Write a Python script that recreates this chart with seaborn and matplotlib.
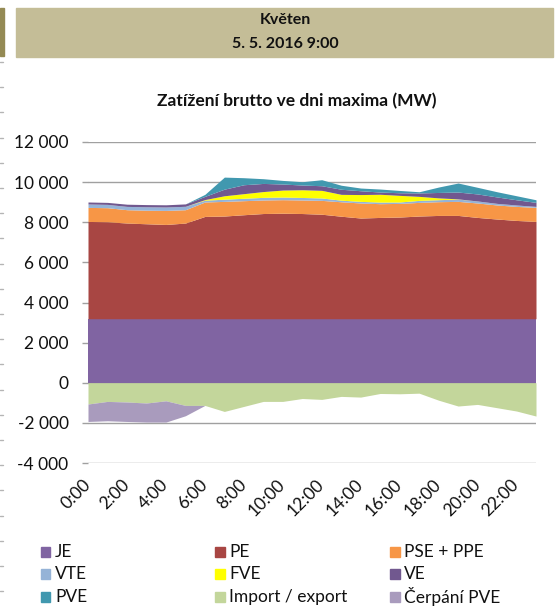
import matplotlib
matplotlib.use("Agg")
import matplotlib.pyplot as plt
from matplotlib.patches import Rectangle
from matplotlib.lines import Line2D
from matplotlib.ticker import FuncFormatter, MultipleLocator
import numpy as np
import pandas as pd
import seaborn as sns

# Hourly load on the peak day (MW)
hours = list(range(24))
hour_labels = [f"{h}:00" for h in hours]

je = [3190] * 24
pe = [4850, 4835, 4770, 4735, 4700, 4770, 5100, 5120, 5185, 5245, 5260, 5245,
      5210, 5110, 5020, 5050, 5070, 5120, 5150, 5150, 5050, 4970, 4900, 4850]
pse_ppe = [700, 700, 665, 675, 700, 665, 720, 730, 700, 675, 675, 675,
           690, 720, 750, 685, 680, 680, 685, 700, 720, 700, 700, 700]
vte = [170, 165, 165, 170, 170, 170, 90, 110, 120, 130, 130, 125,
       120, 80, 80, 80, 70, 100, 100, 115, 100, 80, 70, 50]
fve = [0, 0, 0, 0, 0, 0, 30, 170, 230, 290, 350, 385,
       380, 290, 340, 390, 330, 200, 90, 10, 0, 0, 0, 0]
ve = [100, 100, 110, 110, 110, 120, 160, 330, 445, 405, 300, 235,
      230, 255, 190, 110, 130, 170, 270, 340, 350, 320, 260, 200]
pve = [0, 0, 0, 0, 0, 0, 100, 600, 350, 235, 180, 165,
       300, 200, 135, 150, 115, 60, 270, 450, 330, 260, 200, 130]
import_export = [-1060, -930, -960, -1010, -900, -1130, -1130, -1430, -1180, -930, -930, -785,
                 -830, -680, -715, -535, -550, -520, -870, -1160, -1080, -1245, -1410, -1660]
cerpani_pve = [-870, -965, -970, -950, -1060, -515, 0, 0, 0, 0, 0, 0,
               0, 0, 0, 0, 0, 0, 0, 0, 0, 0, 0, 0]

series_names = ["JE", "PE", "PSE + PPE", "VTE", "FVE", "VE", "PVE",
                "Import / export", "Čerpání PVE"]
series_colors = ["#8064A2", "#A84643", "#F79646", "#95B3D7", "#FFFF00",
                 "#71588F", "#4198AF", "#C3D69B", "#A99BBD"]

df = pd.DataFrame({
    "hour": hours,
    "JE": je, "PE": pe, "PSE + PPE": pse_ppe, "VTE": vte, "FVE": fve,
    "VE": ve, "PVE": pve, "Import / export": import_export,
    "Čerpání PVE": cerpani_pve,
})

sns.set_theme(style="white")
plt.rcParams["font.family"] = ["Lato", "DejaVu Sans"]

W, H = 555, 612
fig = plt.figure(figsize=(W / 100, H / 100), dpi=100)
fig.patch.set_facecolor("white")

def fx(px):
    return px / W

def fy(py):
    return 1 - py / H

# Header band
fig.patches.append(Rectangle((fx(16), fy(57)), fx(553 - 16), 49 / H,
                             transform=fig.transFigure, color="#C4BD97", zorder=0))
fig.patches.append(Rectangle((0, fy(56)), fx(4), 48 / H,
                             transform=fig.transFigure, color="#948A54", zorder=0))
fig.text(fx(285), fy(20), "Květen", ha="center", va="center",
         fontsize=11.5, fontweight="bold", color="#111111")
fig.text(fx(285), fy(44), "5. 5. 2016 9:00", ha="center", va="center",
         fontsize=11.5, fontweight="bold", color="#111111")

# Small page marks along the left edge
for k in range(22):
    yy = 62 + k * 25.2
    fig.add_artist(Line2D([0, fx(2.5)], [fy(yy), fy(yy)], transform=fig.transFigure,
                          color="#b5b5b5", lw=1))

fig.text(fx(297), fy(101), "Zatížení brutto ve dni maxima (MW)", ha="center",
         va="center", fontsize=12.5, fontweight="bold", color="#111111")

ax = fig.add_axes([fx(88), fy(463), fx(536 - 88), (463 - 142) / H])
ax.set_facecolor("white")

x = df["hour"].to_numpy()
pos_cols = series_names[:7]
neg_cols = series_names[7:]
ax.stackplot(x, *[df[c].to_numpy() for c in pos_cols],
             colors=series_colors[:7], linewidth=0, zorder=2)
ax.stackplot(x, *[df[c].to_numpy() for c in neg_cols],
             colors=series_colors[7:], linewidth=0, zorder=2)

ax.set_xlim(0, 23)
ax.set_ylim(-4000, 12000)
ax.yaxis.set_major_locator(MultipleLocator(2000))
ax.yaxis.set_major_formatter(FuncFormatter(
    lambda v, _: f"{int(v):,}".replace(",", " ")))
ax.grid(axis="y", color="#A0A0A0", lw=1)
ax.grid(axis="x", visible=False)
ax.set_axisbelow(True)
for s in ax.spines.values():
    s.set_visible(False)

ax.set_xticks(hours[::2])
ax.set_xticklabels(hour_labels[::2], rotation=45, ha="right", va="center",
                   rotation_mode="anchor")
ax.tick_params(axis="y", which="major", length=4, width=1, color="#A0A0A0",
               direction="out", left=True, pad=10, labelsize=12.5, labelcolor="#111111")
ax.tick_params(axis="x", length=0, pad=14, labelsize=12.5, labelcolor="#111111")
ax.set_xlabel("")
ax.set_ylabel("")

# Legend laid out in three rows
col_x = [41, 215, 390]
row_y = [552, 574, 597]
for i, (name, col) in enumerate(zip(series_names, series_colors)):
    r, c = divmod(i, 3)
    sq = 9.5
    fig.patches.append(Rectangle((fx(col_x[c]), fy(row_y[r] + sq / 2)), fx(sq), sq / H,
                                 transform=fig.transFigure, color=col))
    fig.text(fx(col_x[c] + 14), fy(row_y[r]), name, ha="left", va="center",
             fontsize=12.5, color="#111111")

fig.savefig("out.png", dpi=100, facecolor="white")
